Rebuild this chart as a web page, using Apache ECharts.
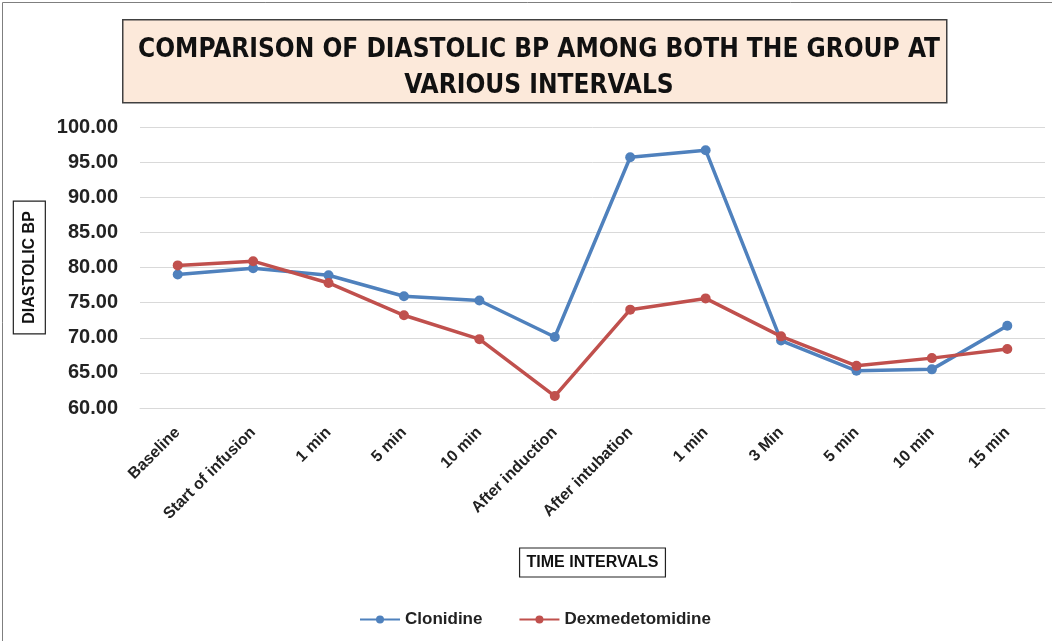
<!DOCTYPE html>
<html>
<head>
<meta charset="utf-8">
<script src="https://cdn.jsdelivr.net/npm/echarts@6/dist/echarts.min.js"></script>
<style>
  html, body { margin: 0; padding: 0; background: #fff; }
  #main { width: 1052px; height: 641px; }
</style>
</head>
<body>
<div id="main"></div>
<script>
// time points on the x axis
var categories = ['Baseline', 'Start of infusion', '1 min', '5 min', '10 min', 'After induction',
  'After intubation', '1 min', '3 Min', '5 min', '10 min', '15 min'];
// mean diastolic BP per group
var clonidine = [79.0, 79.9, 78.9, 75.9, 75.3, 70.1, 95.7, 96.7, 69.6, 65.3, 65.5, 71.7];
var dexmedetomidine = [80.3, 80.9, 77.8, 73.2, 69.8, 61.7, 74.0, 75.6, 70.2, 66.0, 67.1, 68.4];
var yTicks = { min: 60, max: 100, step: 5 };

var chart = echarts.init(document.getElementById('main'));
var font = 'Liberation Sans';

var option = {
  backgroundColor: '#fff',
  graphic: [
    { // outer frame
      type: 'rect', left: 0, top: 0, z: -1,
      shape: { width: 1051, height: 640 },
      style: { fill: 'none', stroke: '#7f7f7f', lineWidth: 1 }
    },
    { // title box
      type: 'rect', left: 122, top: 19, z: -1,
      shape: { width: 824, height: 83 },
      style: { fill: '#fce9da', stroke: '#404040', lineWidth: 1.5 }
    }
  ],
  title: {
    text: 'COMPARISON OF DIASTOLIC BP AMONG BOTH THE GROUP AT\nVARIOUS INTERVALS',
    left: 534,
    top: 27,
    textAlign: 'center',
    textStyle: {
      fontFamily: '"DejaVu Sans Condensed", "Liberation Sans", sans-serif',
      fontWeight: 'bold',
      fontSize: 26,
      lineHeight: 36,
      color: '#111'
    }
  },
  color: ['#4f81bd', '#c0504d'],
  legend: {
    bottom: 8,
    left: 354,
    itemWidth: 40,
    itemHeight: 10,
    itemGap: 36,
    textStyle: { fontFamily: font, fontWeight: 'bold', fontSize: 17, color: '#222' },
    data: ['Clonidine', 'Dexmedetomidine']
  },
  grid: { left: 140, right: 7, top: 127, bottom: 233 },
  xAxis: {
    type: 'category',
    data: categories,
    boundaryGap: true,
    name: 'TIME INTERVALS',
    nameLocation: 'middle',
    nameGap: 140,
    nameTextStyle: {
      fontFamily: font, fontWeight: 'bold', fontSize: 16, color: '#111',
      borderColor: '#222', borderWidth: 1.2, padding: [7, 7, 6, 7]
    },
    axisLine: { show: true, lineStyle: { color: '#d9d9d9' } },
    axisTick: { show: false },
    axisLabel: {
      interval: 0,
      rotate: 45,
      margin: 22,
      fontFamily: font,
      fontWeight: 'bold',
      fontSize: 16,
      color: '#222'
    }
  },
  yAxis: {
    type: 'value',
    min: yTicks.min,
    max: yTicks.max,
    interval: yTicks.step,
    name: 'DIASTOLIC BP',
    nameLocation: 'middle',
    nameGap: 76,
    nameRotate: 90,
    nameTextStyle: {
      fontFamily: font, fontWeight: 'bold', fontSize: 16, color: '#111',
      borderColor: '#222', borderWidth: 1.2, padding: [8, 10, 8, 10]
    },
    axisLine: { show: false },
    axisTick: { show: false },
    splitLine: { lineStyle: { color: '#d9d9d9', width: 1 } },
    axisLabel: {
      margin: 22,
      fontFamily: font,
      fontWeight: 'bold',
      fontSize: 20,
      color: '#222',
      formatter: function (v) { return v.toFixed(2); }
    }
  },
  series: [
    {
      name: 'Clonidine',
      type: 'line',
      data: clonidine,
      symbol: 'circle',
      symbolSize: 10,
      lineStyle: { width: 3.5 },
      z: 2
    },
    {
      name: 'Dexmedetomidine',
      type: 'line',
      data: dexmedetomidine,
      symbol: 'circle',
      symbolSize: 10,
      lineStyle: { width: 3.5 },
      z: 3
    }
  ]
};

chart.setOption(option);
</script>
</body>
</html>
